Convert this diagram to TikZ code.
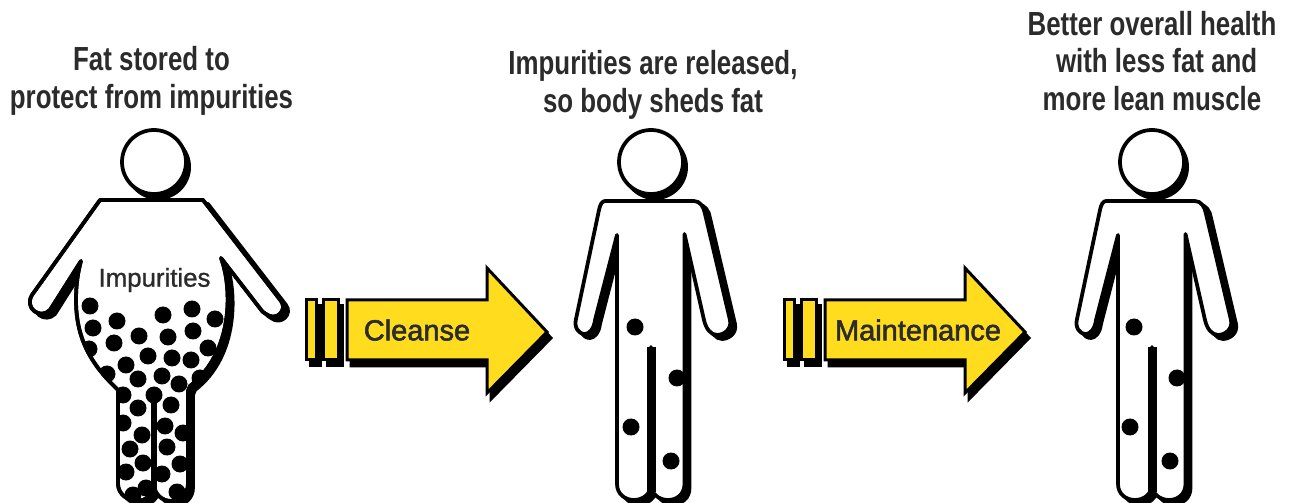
\documentclass[tikz,border=0pt]{standalone}
\usepackage{fontspec}
\setmainfont{Liberation Sans}
\newfontfamily\headfont{Liberation Sans Bold}[FakeStretch=0.775]
\newfontfamily\arrowfont{Liberation Sans}[FakeBold=2]
\newfontfamily\bellyfont{Liberation Sans}[FakeBold=1]
\usetikzlibrary{positioning}
\definecolor{Ink}{HTML}{000000}
\definecolor{Label}{HTML}{2B2B2B}
\definecolor{Sun}{HTML}{FFDD1E}
% outlines, relative to the centre of the head
\newcommand\slimoutline{(-46,39) -- (43,39) .. controls (49,39) and (53,45) .. (54,52) -- (79,158)
  .. controls (81,168) and (72,173) .. (66,173) .. controls (60,173) and (55,167) .. (53,158)
  -- (33.5,72) -- (33.5,322) .. controls (33.5,332) and (26,338) .. (17,338)
  .. controls (8,338) and (0,332) .. (0,322) -- (0,185) -- (0,322)
  .. controls (0,332) and (-8,338) .. (-17,338) .. controls (-26,338) and (-34,332) .. (-34,322)
  -- (-34,73) -- (-56,158) .. controls (-57,167) and (-62,172) .. (-66,172)
  .. controls (-73,172) and (-77,165) .. (-75,157) -- (-52,48)
  .. controls (-51,43) and (-49,39) .. (-46,39) -- cycle}
\newcommand\fatoutline{(-54,38) -- (49,38) -- (127,139) .. controls (134,148) and (122,160) .. (112,152)
  .. controls (110,151) and (109,150) .. (108,149) -- (67,96)
  .. controls (78,125) and (80,190) .. (36,224) -- (34,229) -- (34,322)
  .. controls (34,332) and (26,339) .. (17,339) .. controls (8,339) and (0,332) .. (0,322)
  -- (0,234) -- (0,322) .. controls (0,332) and (-8,339) .. (-17,339)
  .. controls (-26,339) and (-36,332) .. (-36,322) -- (-36,228)
  .. controls (-60,205) and (-78,180) .. (-78,138) .. controls (-78,122) and (-76,110) .. (-73,99)
  -- (-104,148) .. controls (-114,158) and (-130,146) .. (-122,133) -- cycle}
\tikzset{
  figline/.style={draw=Ink, line width=0.075cm, line join=round},
  figfill/.style={figline, fill=white},
  figshadow/.style={figline, fill=Ink, shift={(5,4)}},
  impurity/.style={fill=Ink},
  headline/.style={align=center, text=Label, inner sep=0pt, font=\headfont\fontsize{19}{21.5}\selectfont},
  arrowlabel/.style={text=Label, inner sep=0pt, font=\arrowfont\fontsize{16.5}{20}\selectfont},
  bandbox/.style={draw=Ink, line width=0.06cm, fill=Sun},
  bandshadow/.style={draw=Ink, line width=0.06cm, fill=Ink, shift={(4,6)}},
  pics/slimfig/.style={code={
    \fill[Ink] (4,5) circle (33);
    \draw[figfill] (0,0) circle (32);
    \path[figshadow] \slimoutline;
    \path[figfill] \slimoutline;
    \draw[Ink, line width=0.18cm] (0,185) -- (0,330);
  }},
  pics/yellowarrow/.style={code={
    \path[bandshadow] (1.5,-30) rectangle (11.5,30);
    \path[bandshadow] (18.5,-30) rectangle (33.5,30);
    \path[bandshadow] (42,-30) -- (182,-30) -- (182,-62) -- (242,2) -- (182,63) -- (182,30) -- (42,30) -- cycle;
    \path[bandbox] (1.5,-30) rectangle (11.5,30);
    \path[bandbox] (18.5,-30) rectangle (33.5,30);
    \path[bandbox] (42,-30) -- (182,-30) -- (182,-62) -- (242,2) -- (182,63) -- (182,30) -- (42,30) -- cycle;
  }}
}
\begin{document}
\begin{tikzpicture}[x=0.02cm,y=-0.02cm]
  \clip (0,0) rectangle (1289,503);
  % fat figure
  \begin{scope}[shift={(154,162)}]
    \fill[Ink] (4,5) circle (33);
    \draw[figfill] (0,0) circle (32);
    \path[figshadow] \fatoutline;
    \path[figfill] \fatoutline;
    \begin{scope}
      \clip \fatoutline;
      \begin{scope}[shift={(-154,-162)}]
        \foreach \dotx/\doty in {90/306,93/328,117/321,114/343,89/349,139/336,163/315,168/337,
          192/309,193/331,215/319,208/348,148/356,172/358,191/360,126/365,107/374,138/379,
          162/376,179/384,200/378,123/395,154/395,171/405,138/408,123/423,165/426,142/435,
          183/433,130/449,167/447,143/463,180/464,126/472,162/474,133/495,146/488,177/492}
          \fill[impurity] (\dotx,\doty) circle (8.5);
      \end{scope}
    \end{scope}
    \path[figline] \fatoutline;
    \draw[Ink, line width=0.12cm] (0,234) -- (0,330);
  \end{scope}
  \node[text=Label, inner sep=0pt, font=\bellyfont\fontsize{14.7}{18}\selectfont] (impuritylabel) at (154.5,280) {Impurities};
  % slim figures
  \pic (released) at (651,162) {slimfig};
  \pic (healthy) at (1152,162) {slimfig};
  \foreach \dotx/\doty in {635/327,677/378,631/427,671/461,1134/327,1177/378,1130/427,1170/461}
    \fill[impurity] (\dotx,\doty) circle (8.5);
  % arrows
  \pic (cleansearrow) at (305,330) {yellowarrow};
  \pic (maintarrow) at (783,330) {yellowarrow};
  \node[arrowlabel] (cleanse) at (417,330) {Cleanse};
  \node[arrowlabel] (maintenance) at (918,330) {Maintenance};
  % captions
  \node[headline] (stored) at (151.5,81) {Fat stored to\\protect from impurities};
  \node[headline] (shed) at (653,84.5) {Impurities are released,\\so body sheds fat};
  \node[headline] (better) at (1152,61) {Better overall health\\\hspace*{0.28em}with less fat and\\more lean muscle};
\end{tikzpicture}
\end{document}
